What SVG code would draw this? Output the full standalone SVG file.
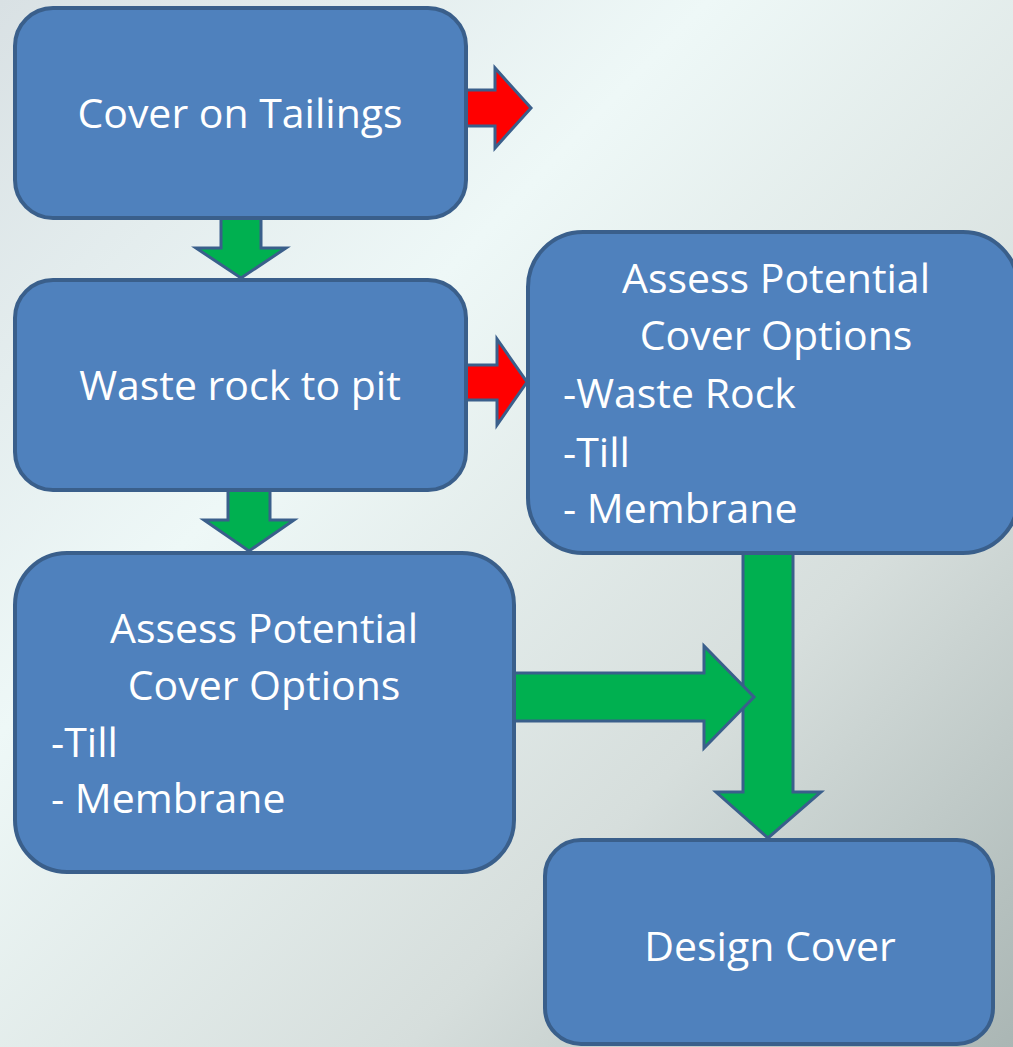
<svg xmlns="http://www.w3.org/2000/svg" width="1013" height="1047" viewBox="0 0 1013 1047">
<defs>
<linearGradient id="bg" x1="0" y1="0" x2="1" y2="1">
<stop offset="0" stop-color="#d9e1e4"/>
<stop offset="0.35" stop-color="#eef8f7"/>
<stop offset="0.7" stop-color="#d6dedc"/>
<stop offset="1" stop-color="#aab6b4"/>
</linearGradient>
<style>
.box{fill:#4f81bd;stroke:#3a5f8b;stroke-width:4}
.arr{stroke:#3a5f8b;stroke-width:3;stroke-linejoin:miter}
.g{fill:#00b050}
.r{fill:#ff0000}
.t{font-family:"Open Sans","Liberation Sans",sans-serif;font-size:41px;fill:#ffffff}
.c{text-anchor:middle}
</style>
</defs>
<rect x="0" y="0" width="1013" height="1047" fill="url(#bg)"/>
<g id="connectors">
<polygon class="arr r" points="455,90 495,90 495,68 531,108 495,148 495,126 455,126"/>
<polygon class="arr r" points="455,365 497,365 497,339 527,382 497,425 497,400 455,400"/>
<polygon class="arr g" points="221,210 261,210 261,248 286,248 241,278 196,248 221,248"/>
<polygon class="arr g" points="228,482 270,482 270,520 294,520 249,551 204,520 228,520"/>
<polygon class="arr g" points="743,545 793,545 793,792 821,792 768,838 716,792 743,792"/>
<polygon class="arr g" points="505,673 704,673 704,646 754,697 704,748 704,721 505,721"/>
</g>
<g id="node-cover-tailings">
<rect class="box" x="15" y="8" width="451" height="210" rx="38"/>
<text class="t c" x="240" y="128">Cover on Tailings</text>
</g>
<g id="node-waste-rock">
<rect class="box" x="15" y="280" width="451" height="210" rx="38"/>
<text class="t c" x="240" y="400">Waste rock to pit</text>
</g>
<g id="node-assess-right">
<rect class="box" x="528" y="232" width="490" height="321" rx="55"/>
<text class="t c" x="776" y="293">Assess Potential</text>
<text class="t c" x="776" y="350">Cover Options</text>
<text class="t" x="563" y="408">-Waste Rock</text>
<text class="t" x="563" y="467">-Till</text>
<text class="t" x="563" y="523">- Membrane</text>
</g>
<g id="node-assess-left">
<rect class="box" x="15" y="553" width="499" height="319" rx="52"/>
<text class="t c" x="264" y="643">Assess Potential</text>
<text class="t c" x="264" y="700">Cover Options</text>
<text class="t" x="51" y="757">-Till</text>
<text class="t" x="51" y="813">- Membrane</text>
</g>
<g id="node-design-cover">
<rect class="box" x="545" y="840" width="448" height="204" rx="36"/>
<text class="t c" x="770" y="961">Design Cover</text>
</g>
</svg>
